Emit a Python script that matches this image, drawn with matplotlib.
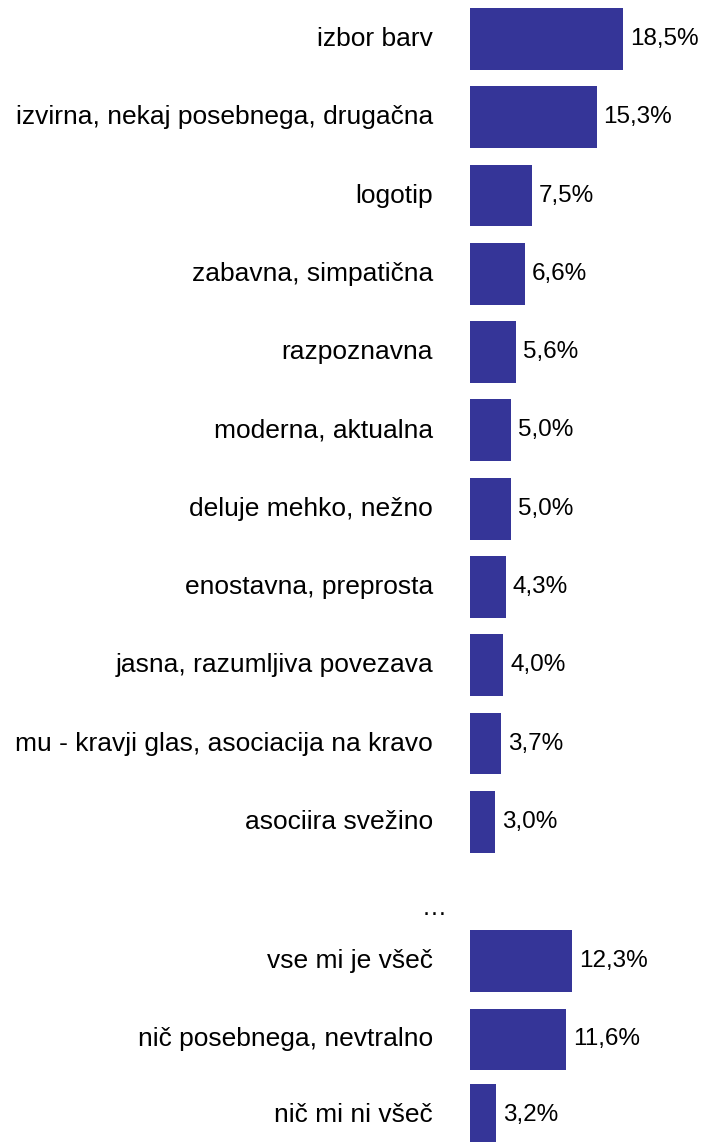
import matplotlib
matplotlib.use('Agg')
import matplotlib.pyplot as plt

categories = ['izbor barv', 'izvirna, nekaj posebnega, drugačna', 'logotip',
              'zabavna, simpatična', 'razpoznavna', 'moderna, aktualna',
              'deluje mehko, nežno', 'enostavna, preprosta', 'jasna, razumljiva povezava',
              'mu - kravji glas, asociacija na kravo', 'asociira svežino',
              'vse mi je všeč', 'nič posebnega, nevtralno', 'nič mi ni všeč']
values = [18.5, 15.3, 7.5, 6.6, 5.6, 5.0, 5.0, 4.3, 4.0, 3.7, 3.0, 12.3, 11.6, 3.2]
value_labels = ['18,5%', '15,3%', '7,5%', '6,6%', '5,6%', '5,0%', '5,0%', '4,3%',
                '4,0%', '3,7%', '3,0%', '12,3%', '11,6%', '3,2%']

plt.rcParams['font.family'] = ['Liberation Sans', 'DejaVu Sans']

# row positions: first 11 rows evenly, then a gap with "…", then 3 rows
pos = list(range(11)) + [11.78, 12.78, 13.74]
gap_pos = 11.1

fig = plt.figure(figsize=(7.03, 11.42), dpi=100)
ax = fig.add_axes([470 / 703, 0, 233 / 703, 1])
ax.barh(pos, values, height=0.79, color='#353598')
ax.set_xlim(0, 233 / 8.27)
ax.set_ylim(14.09, -0.498)
ax.axis('off')

for p, v, lab, cat in zip(pos, values, value_labels, categories):
    ax.text(v + 0.85, p, lab, va='center', ha='left', fontsize=17.5, color='#000000')
    ax.text(-37 / 8.27, p, cat, va='center', ha='right', fontsize=19, color='#000000',
            clip_on=False)
ax.text(-23 / 8.27, gap_pos, '…', va='center', ha='right', fontsize=18, clip_on=False)

fig.savefig('out.png', dpi=100)
